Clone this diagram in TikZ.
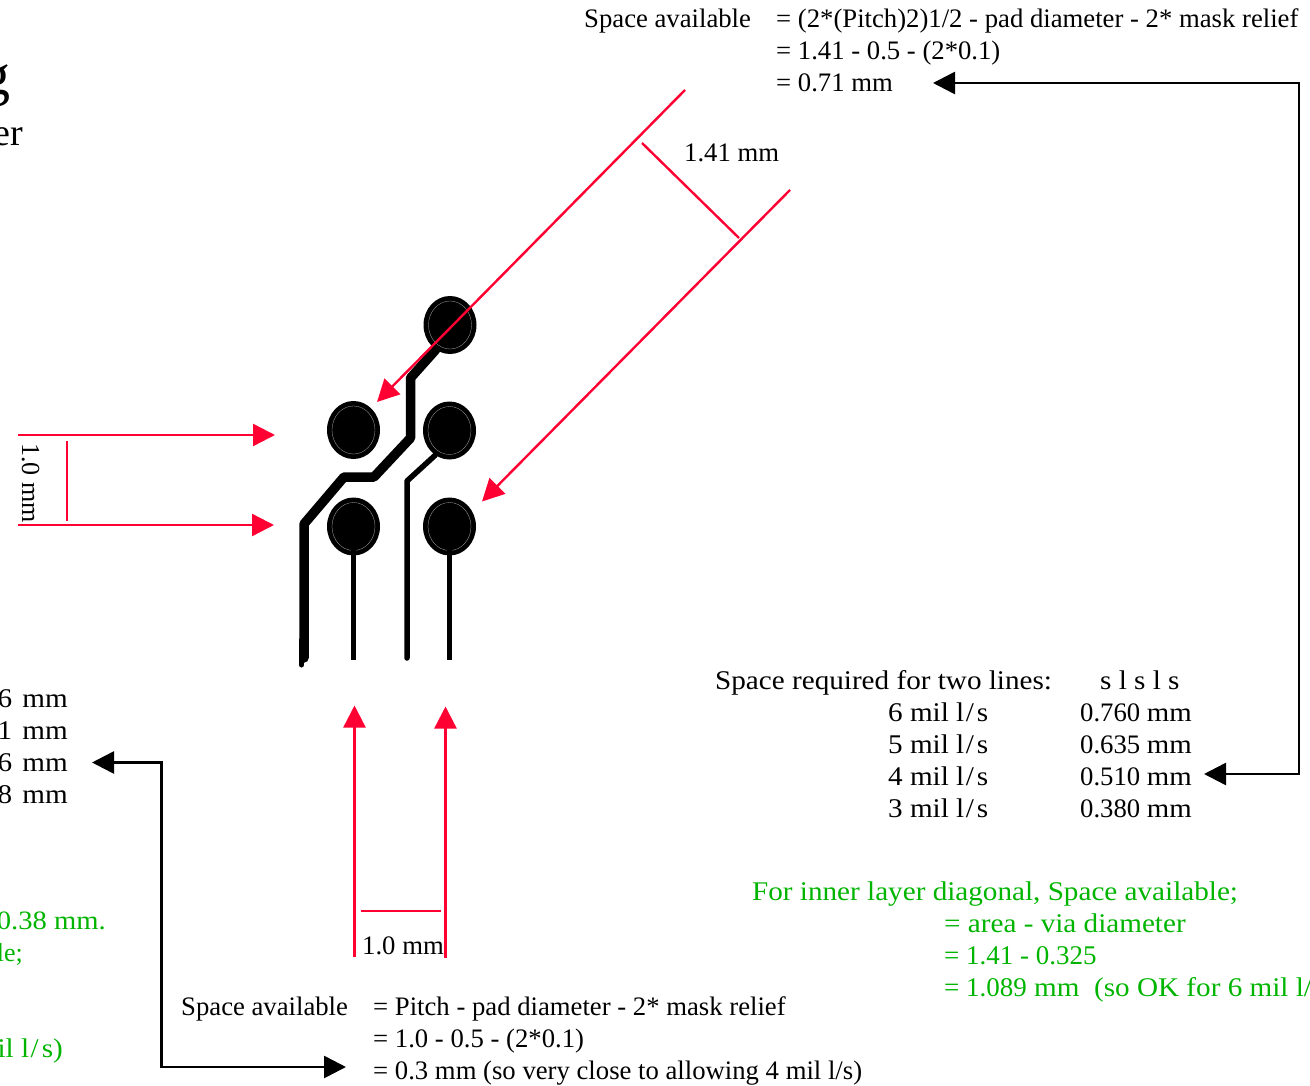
\documentclass[tikz,border=0pt]{standalone}
\usepackage{fontspec}
\setmainfont{Liberation Serif}
\newfontfamily\widefont[FakeStretch=1.08]{Liberation Serif}
\usetikzlibrary{arrows.meta,shapes.geometric}

\definecolor{dimred}{HTML}{FF0033}
\definecolor{notegreen}{HTML}{00B400}

\newcommand{\lslash}{l\kern1.5pt/\kern3pt s}

\tikzset{
  txt/.style={anchor=base west, inner sep=0pt, font=\fontsize{26.7}{32}\selectfont},
  txtr/.style={txt, anchor=base east},
  widetxt/.style={txt, font=\fontsize{27}{32}\selectfont\widefont},
  widetxtr/.style={widetxt, anchor=base east},
  note/.style={widetxt, text=notegreen},
  noter/.style={widetxtr, text=notegreen},
  pad/.style={ellipse, fill=black, minimum width=53pt, minimum height=58pt, inner sep=0pt},
  padring/.style={ellipse, draw=gray!70, line width=0.3pt, minimum width=43pt, minimum height=48pt, inner sep=0pt},
  redline/.style={draw=dimred, line width=2.4pt},
  redarrow/.style={redline, -{Triangle[length=22pt,width=22pt]}},
  blackarrow/.style={draw=black, line width=2.6pt, {Triangle[length=22pt,width=22pt]}-{Triangle[length=22pt,width=22pt]}},
  trace/.style={draw=black, line width=#1, line join=round, line cap=round}
}

\begin{document}
\begin{tikzpicture}[x=1pt, y=-1pt]

  \useasboundingbox (0,0) rectangle (1310,1086);

  % pads
  \foreach \name/\px/\py in {padtr/450/325, padml/353.5/430, padmr/449.5/430.5, padbl/353.5/526.5, padbr/449.5/526.5} {
    \node[pad] (\name) at (\px,\py) {};
    \node[padring] (\name ring) at (\px,\py) {};
  }

  % trace ends
  \coordinate (wideend)  at (304,658);
  \coordinate (stubend)  at (301.5,665);
  \coordinate (stubtop)  at (301.5,640);
  \coordinate (wideb)    at (304,524);
  \coordinate (widec)    at (344,477);
  \coordinate (wided)    at (374,477);
  \coordinate (widee)    at (410.5,438);
  \coordinate (widef)    at (410.5,378);
  \coordinate (thinend)  at (407,658);
  \coordinate (thinb)    at (407,481);
  \coordinate (blend)    at (353.5,660);
  \coordinate (brend)    at (449.5,660);

  \draw[trace=9.5pt] (wideend) -- (wideb) -- (widec) -- (wided) -- (widee) -- (widef) -- (padtr.240);
  \draw[trace=5pt] (stubend) -- (stubtop);
  \draw[trace=5.5pt] (thinend) -- (thinb) -- (padmr.240);
  \draw[trace=4.6pt, line cap=butt] (padbl.center) -- (blend);
  \draw[trace=4.6pt, line cap=butt] (padbr.center) -- (brend);

  % red dimensions
  \coordinate (lefttop)   at (18,435);
  \coordinate (lefttip)   at (275,435);
  \coordinate (leftbot)   at (18,525);
  \coordinate (leftbtip)  at (274,525);
  \coordinate (leftdima)  at (67,441);
  \coordinate (leftdimb)  at (67,521);
  \coordinate (diagatail) at (685,90);
  \coordinate (diagatip)  at (377,402);
  \coordinate (diagbtail) at (790,190);
  \coordinate (diagbtip)  at (482,501.5);
  \coordinate (diagdima)  at (642,143);
  \coordinate (diagdimb)  at (739,238);
  \coordinate (uptaila)   at (354.5,957);
  \coordinate (uptipa)    at (354.5,705.5);
  \coordinate (uptailb)   at (445.5,958);
  \coordinate (uptipb)    at (445.5,706.5);
  \coordinate (updima)    at (361,911);
  \coordinate (updimb)    at (441,911);

  \draw[redarrow] (lefttop) -- (lefttip);
  \draw[redarrow] (leftbot) -- (leftbtip);
  \draw[redline]  (leftdima) -- (leftdimb);
  \draw[redarrow] (diagatail) -- (diagatip);
  \draw[redarrow] (diagbtail) -- (diagbtip);
  \draw[redline]  (diagdima) -- (diagdimb);
  \draw[redarrow] (uptaila) -- (uptipa);
  \draw[redarrow] (uptailb) -- (uptipb);
  \draw[redline]  (updima) -- (updimb);

  % black arrows
  \coordinate (righttop) at (933,83);
  \coordinate (rightca)  at (1299,83);
  \coordinate (rightcb)  at (1299,774);
  \coordinate (rightbot) at (1204,774);
  \coordinate (lefta)    at (92,762.5);
  \coordinate (leftca)   at (161.5,762.5);
  \coordinate (leftcb)   at (161.5,1067);
  \coordinate (leftb)    at (346,1067);

  \draw[blackarrow] (righttop) -- (rightca) -- (rightcb) -- (rightbot);
  \draw[blackarrow] (lefta) -- (leftca) -- (leftcb) -- (leftb);

  % top formula
  \node[txt] (topname) at (584,28) {Space available};
  \node[txt] (topa)    at (776,28) {= (2*(Pitch)2)1/2 - pad diameter - 2* mask relief};
  \node[txt] (topb)    at (776,60) {= 1.41 - 0.5 - (2*0.1)};
  \node[txt] (topc)    at (776,92) {= 0.71 mm};
  \node[txt] (diaglab) at (684,162) {1.41 mm};

  % table on the right
  \node[widetxt] (reqname) at (715,689)  {Space required for two lines:};
  \node[widetxt] (reqhead) at (1100,689) {s l s l s};
  \foreach \mil/\val/\py in {6/0.760/721, 5/0.635/753, 4/0.510/785, 3/0.380/817} {
    \node[widetxt] (mil\mil) at (888,\py)  {\mil{} mil \lslash};
    \node[txt] (val\mil) at (1080,\py) {\val{} {\widefont mm}};
  }

  % inner layer note
  \node[note] (innername) at (752,900) {For inner layer diagonal, Space available;};
  \node[note] (innera)    at (944,932) {= area - via diameter};
  \node[note, font=\fontsize{27}{32}\selectfont] (innerb) at (944,964) {= 1.41 - 0.325};
  \node[note] (innerc)    at (944,996) {{\rmfamily= 1.089} mm\ \ (so OK for 6 mil l/};

  % bottom formula
  \node[txt] (upplab)  at (362,954)  {1.0 mm};
  \node[txt] (botname) at (181,1015) {Space available};
  \node[txt] (bota)    at (373,1015) {= Pitch - pad diameter - 2* mask relief};
  \node[txt] (botb)    at (373,1047) {= 1.0 - 0.5 - (2*0.1)};
  \node[txt] (botc)    at (373,1079) {= 0.3 mm (so very close to allowing 4 mil l/s)};
  \node[txt, rotate=-90, font=\fontsize{26}{32}\selectfont] (leftlab) at (22,443) {1.0 mm};

  % cut off at the left edge
  \node[widetxtr] (cuta) at (68,707) {6\kern3pt\ mm};
  \node[widetxtr] (cutb) at (68,739) {1\kern3pt\ mm};
  \node[widetxtr] (cutc) at (68,771) {6\kern3pt\ mm};
  \node[widetxtr] (cutd) at (68,803) {8\kern3pt\ mm};
  \node[noter, font=\fontsize{26.5}{32}\selectfont\widefont] (cute) at (106,929) {0.38 mm.};
  \node[noter, font=\fontsize{26}{32}\selectfont] (cutf) at (23,961) {le;};
  \node[noter] (cutg) at (63,1057)  {il \lslash)};
  \node[txtr, font=\fontsize{58}{58}\selectfont] (cuth) at (11,95)  {g};
  \node[txtr, font=\fontsize{38}{38}\selectfont] (cuti) at (23,146) {er};

\end{tikzpicture}
\end{document}
